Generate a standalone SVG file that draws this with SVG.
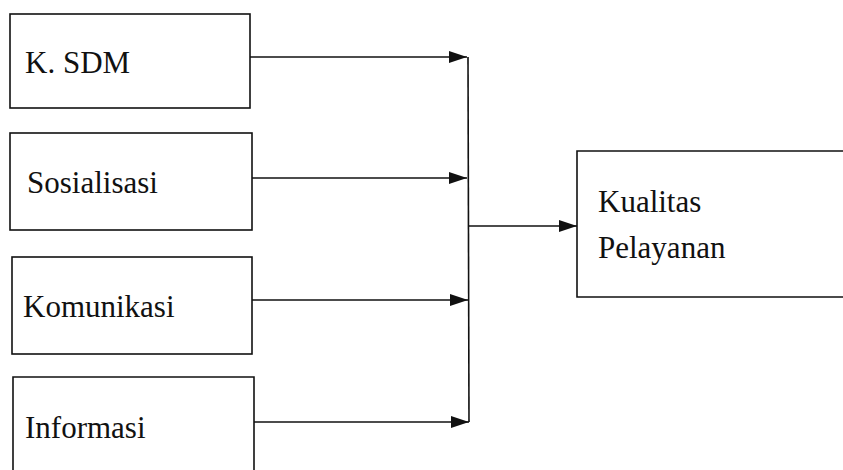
<svg xmlns="http://www.w3.org/2000/svg" width="843" height="470" viewBox="0 0 843 470">
<style>
.box{fill:#fff;stroke:#111;stroke-width:1.6}
.lbl{font-family:'Times New Roman','Liberation Serif','DejaVu Serif',serif;font-size:31px;fill:#111}
.ln{fill:none;stroke:#111;stroke-width:1.6}
</style>
<defs>
<marker id="ah" viewBox="0 0 18 12" refX="18" refY="6" markerWidth="18" markerHeight="12" markerUnits="userSpaceOnUse" orient="auto">
<path d="M0,0 L18,6 L0,12 Z" fill="#111"/>
</marker>
</defs>
<rect width="843" height="470" fill="#fff"/>
<g id="sdm"><rect class="box" x="10" y="14" width="240" height="94"/><text class="lbl" x="25" y="73">K. SDM</text></g>
<g id="sosialisasi"><rect class="box" x="10" y="133" width="242" height="97"/><text class="lbl" x="27" y="193">Sosialisasi</text></g>
<g id="komunikasi"><rect class="box" x="12" y="257" width="240" height="97"/><text class="lbl" x="23" y="317">Komunikasi</text></g>
<g id="informasi"><path class="ln" d="M13,471 V377 H254 V471"/><text class="lbl" x="25" y="438">Informasi</text></g>
<g id="kualitas"><path class="ln" d="M844,151 H577 V297 H844"/><text class="lbl" x="598" y="212">Kualitas</text><text class="lbl" x="598" y="258">Pelayanan</text></g>
<g id="connectors">
<line class="ln" x1="250" y1="57" x2="467" y2="57" marker-end="url(#ah)"/>
<line class="ln" x1="252" y1="178" x2="467" y2="178" marker-end="url(#ah)"/>
<line class="ln" x1="252" y1="300" x2="468" y2="300" marker-end="url(#ah)"/>
<line class="ln" x1="254" y1="422" x2="469" y2="422" marker-end="url(#ah)"/>
<line class="ln" x1="468" y1="57" x2="469" y2="422"/>
<line class="ln" x1="468" y1="226" x2="577" y2="226" marker-end="url(#ah)"/>
</g>
</svg>
